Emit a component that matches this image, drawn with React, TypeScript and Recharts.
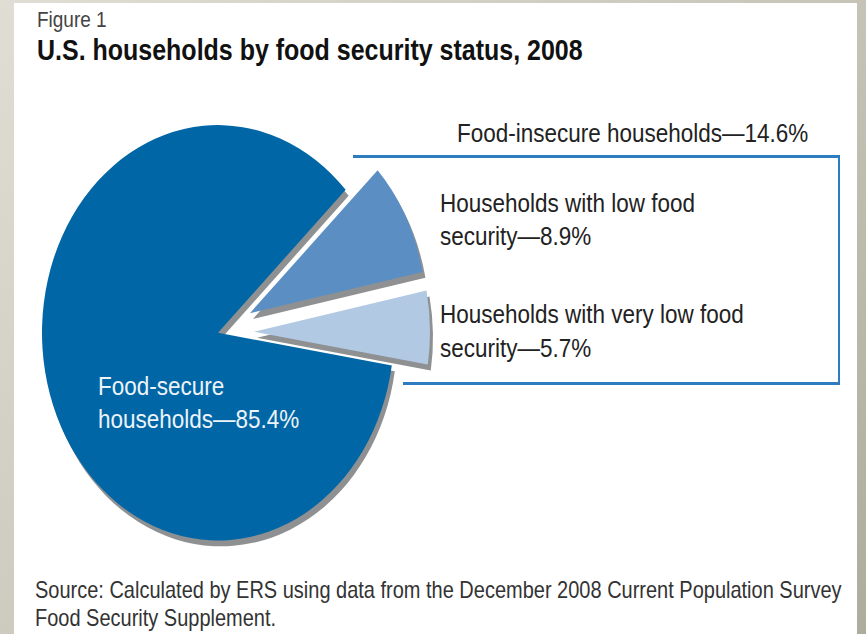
import { PieChart, Pie, Cell } from "recharts"

// shares of U.S. households, 2008 (percent)
const categories = [
  "Food-secure households",
  "Households with very low food security",
  "Households with low food security",
]
const shares = [85.4, 5.7, 8.9]

const data = categories.map((name, i) => ({ name, value: shares[i] }))

const COLORS = ["#0066a6", "#b2c9e4", "#5b8fc3"]
const SHADOW = "#8f9092"
const START_ANGLE = 43.5
const CX = 213
const CY = 277
const R = 176
const EXPLODE = [0, 36, 36]
const SHADOW_DX = 3
const SHADOW_DY = 5
const DRAW_ORDER = [0, 2, 1]
const STRETCH = 1.18

function sliceOffset(index: number) {
  const total = shares.reduce((a, b) => a + b, 0)
  let acc = 0
  for (let i = 0; i < index; i++) acc += shares[i]
  const mid = START_ANGLE + ((acc + shares[index] / 2) / total) * 360
  const rad = (mid * Math.PI) / 180
  return { dx: EXPLODE[index] * Math.cos(rad), dy: -EXPLODE[index] * Math.sin(rad) }
}

const font = "'Liberation Sans', Arial, Helvetica, sans-serif"

export default function App() {
  const layers = DRAW_ORDER.flatMap((idx) => {
    const { dx, dy } = sliceOffset(idx)
    return [
      <Pie
        key={`shadow-${idx}`}
        data={data}
        dataKey="value"
        nameKey="name"
        cx={CX + dx + SHADOW_DX}
        cy={CY + dy + SHADOW_DY}
        outerRadius={R}
        startAngle={START_ANGLE}
        endAngle={START_ANGLE + 360}
        stroke="none"
        label={false}
        labelLine={false}
        isAnimationActive={false}
      >
        {data.map((_, i) => (
          <Cell key={i} fill={i === idx ? SHADOW : "none"} />
        ))}
      </Pie>,
      <Pie
        key={`slice-${idx}`}
        data={data}
        dataKey="value"
        nameKey="name"
        cx={CX + dx}
        cy={CY + dy}
        outerRadius={R}
        startAngle={START_ANGLE}
        endAngle={START_ANGLE + 360}
        stroke="none"
        label={false}
        labelLine={false}
        isAnimationActive={false}
      >
        {data.map((_, i) => (
          <Cell key={i} fill={i === idx ? COLORS[i] : "none"} />
        ))}
      </Pie>,
    ]
  })

  return (
    <div
      style={{
        position: "absolute",
        left: 0,
        top: 0,
        width: 866,
        height: 634,
        overflow: "hidden",
        background: "linear-gradient(135deg, #e0ded4 0%, #cac8bb 50%, #aeac9b 100%)",
      }}
    >
      <div style={{ position: "absolute", left: 14, top: 3, width: 843, height: 631, background: "#fff" }} />
      <div
        style={{
          position: "absolute",
          left: 0,
          top: 0,
          width: 866,
          height: 537,
          transform: `scaleY(${STRETCH})`,
          transformOrigin: "0 0",
        }}
      >
        <PieChart width={866} height={537} style={{ position: "absolute", left: 0, top: 0 }}>
          {layers}
        </PieChart>
        <svg width={866} height={537} style={{ position: "absolute", left: 0, top: 0, pointerEvents: "none" }}>
          <g fontFamily={font}>
            <text x={37} y={23} fontSize={19} fill="#444">Figure 1</text>
            <text x={37} y={51} fontSize={25} fontWeight="bold" fill="#111">
              U.S. households by food security status, 2008
            </text>
            <text x={457} y={120.3} fontSize={22.5} fill="#222">Food-insecure households—14.6%</text>
            <text x={440} y={179.7} fontSize={22.5} fill="#222">Households with low food</text>
            <text x={440} y={207.6} fontSize={22.5} fill="#222">security—8.9%</text>
            <text x={440} y={273.7} fontSize={22.5} fill="#222">Households with very low food</text>
            <text x={440} y={302.5} fontSize={22.5} fill="#222">security—5.7%</text>
            <text x={98} y={334.7} fontSize={22.5} fill="#eef3f8">Food-secure</text>
            <text x={98} y={362.7} fontSize={22.5} fill="#eef3f8">households—85.4%</text>
            <text x={35} y={506.5} fontSize={20} fill="#333">
              Source: Calculated by ERS using data from the December 2008 Current Population Survey
            </text>
            <text x={35} y={530.5} fontSize={20} fill="#333">Food Security Supplement.</text>
          </g>
        </svg>
      </div>
      <div style={{ position: "absolute", left: 353, top: 155, width: 487, height: 2.5, background: "#2d7cbf" }} />
      <div style={{ position: "absolute", left: 837.5, top: 155, width: 2.5, height: 230, background: "#2d7cbf" }} />
      <div style={{ position: "absolute", left: 403, top: 382, width: 437, height: 2.5, background: "#2d7cbf" }} />
    </div>
  )
}
